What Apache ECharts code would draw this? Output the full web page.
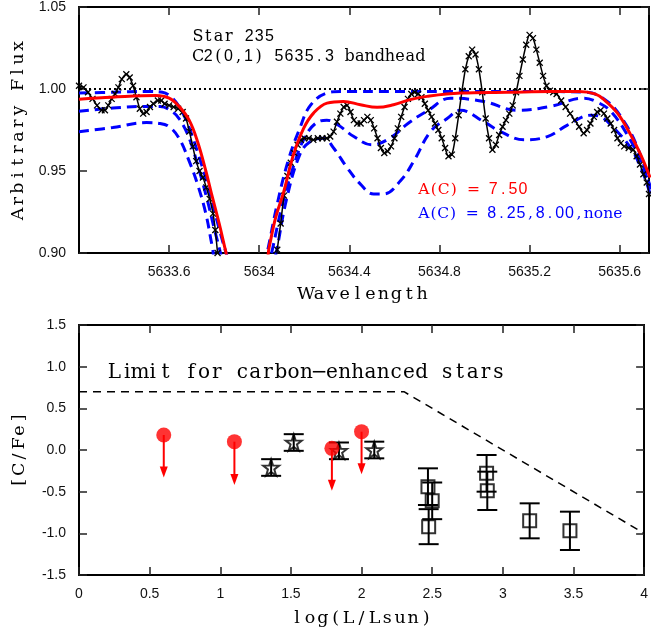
<!DOCTYPE html>
<html><head><meta charset="utf-8">
<script src="https://cdn.jsdelivr.net/npm/echarts@6/dist/echarts.min.js"></script>
<style>html,body{margin:0;padding:0;background:#fff}#c{width:651px;height:642px}</style>
</head><body><div id="c"></div>
<script>
// ---------- Top panel: spectrum ----------
const obsWave = [5633.200,5633.220,5633.240,5633.260,5633.280,5633.300,5633.315,5633.330,5633.345,5633.360,5633.375,5633.390,5633.410,5633.425,5633.440,5633.455,5633.470,5633.485,5633.500,5633.515,5633.530,5633.550,5633.565,5633.580,5633.600,5633.620,5633.640,5633.660,5633.675,5633.690,5633.705,5633.720,5633.735,5633.750,5633.765,5633.780,5633.795,5633.805,5633.815,5633.830,
5634.065,5634.080,5634.095,5634.110,5634.125,5634.140,5634.155,5634.170,5634.185,5634.200,5634.220,5634.240,5634.260,5634.280,5634.300,5634.315,5634.330,5634.345,5634.360,5634.375,5634.390,5634.405,5634.420,5634.435,5634.450,5634.465,5634.480,5634.495,5634.510,5634.525,5634.540,5634.555,5634.570,5634.585,5634.600,5634.615,5634.630,5634.645,5634.660,5634.675,5634.690,5634.705,5634.720,5634.735,5634.750,5634.765,5634.780,5634.795,5634.810,5634.825,5634.840,5634.855,5634.870,5634.885,5634.900,5634.915,5634.930,5634.945,5634.960,5634.975,5634.990,5635.005,5635.020,5635.035,5635.050,5635.065,5635.080,5635.095,5635.110,5635.125,5635.140,5635.155,5635.170,5635.185,5635.200,5635.215,5635.230,5635.245,5635.260,5635.275,5635.290,5635.305,5635.320,5635.340,5635.360,5635.380,5635.400,5635.420,5635.440,5635.455,5635.470,5635.485,5635.500,5635.515,5635.530,5635.545,5635.560,5635.575,5635.590,5635.605,5635.620,5635.640,5635.660,5635.675,5635.690,5635.705,5635.720,5635.730];
const obsFlux = [1.002,1.001,0.998,0.994,0.990,0.987,0.987,0.990,0.994,0.997,1.001,1.006,1.009,1.007,1.002,0.995,0.988,0.985,0.986,0.989,0.991,0.993,0.993,0.991,0.990,0.989,0.988,0.986,0.982,0.974,0.965,0.956,0.950,0.946,0.940,0.933,0.924,0.914,0.900,0.880,
0.885,0.902,0.918,0.935,0.947,0.955,0.961,0.966,0.969,0.970,0.970,0.969,0.970,0.970,0.970,0.971,0.974,0.980,0.985,0.989,0.990,0.986,0.981,0.979,0.979,0.981,0.983,0.981,0.976,0.970,0.964,0.961,0.962,0.965,0.970,0.976,0.983,0.989,0.994,0.997,0.998,0.997,0.995,0.991,0.987,0.983,0.979,0.975,0.970,0.964,0.959,0.960,0.970,0.984,0.999,1.012,1.020,1.024,1.021,1.012,0.998,0.982,0.970,0.963,0.966,0.972,0.977,0.981,0.985,0.990,0.998,1.008,1.018,1.027,1.033,1.031,1.024,1.016,1.008,1.002,0.999,0.998,0.997,0.993,0.989,0.985,0.981,0.977,0.973,0.975,0.979,0.983,0.986,0.987,0.985,0.982,0.979,0.975,0.970,0.967,0.965,0.964,0.963,0.959,0.954,0.948,0.943,0.936];

const fit750Wave = [5633.200,5633.348,5633.541,5633.600,5633.644,5633.689,5633.726,5633.763,5633.792,5633.822,5633.852,5633.880,5634.015,5634.044,5634.073,5634.108,5634.152,5634.197,5634.241,5634.301,5634.374,5634.449,5634.523,5634.596,5634.670,5634.745,5634.893,5635.100,5635.300,5635.420,5635.490,5635.530,5635.590,5635.649,5635.693,5635.735];
const fit750Flux = [0.9938,0.995,0.996,0.9944,0.9894,0.981,0.968,0.950,0.934,0.918,0.9005,0.885,0.885,0.9035,0.9217,0.937,0.960,0.976,0.9853,0.9914,0.9924,0.9904,0.9888,0.9904,0.9935,0.9955,0.9975,0.998,0.9985,0.9985,0.997,0.9935,0.9853,0.972,0.960,0.946];

const fitNoneWave = [5633.200,5633.350,5633.500,5633.570,5633.610,5633.650,5633.690,5633.730,5633.770,5633.810,5633.853,5633.890,5634.000,5634.035,5634.080,5634.130,5634.180,5634.227,5634.300,5634.360,5634.600,5634.900,5635.200,5635.450,5635.545,5635.620,5635.680,5635.723,5635.740];
const fitNoneFlux = [0.9975,0.998,0.9985,0.998,0.995,0.988,0.976,0.960,0.942,0.921,0.900,0.885,0.880,0.900,0.930,0.957,0.976,0.990,0.9975,0.9985,0.9985,0.9985,0.9985,0.998,0.9924,0.980,0.964,0.946,0.938];

const fit800Wave = [5633.200,5633.350,5633.500,5633.560,5633.600,5633.644,5633.689,5633.730,5633.770,5633.800,5633.828,5633.860,5634.020,5634.055,5634.100,5634.150,5634.200,5634.250,5634.300,5634.350,5634.420,5634.500,5634.580,5634.660,5634.750,5634.849,5634.997,5635.145,5635.293,5635.440,5635.500,5635.560,5635.634,5635.693,5635.735];
const fit800Flux = [0.9864,0.9884,0.9894,0.9894,0.9875,0.982,0.970,0.952,0.932,0.915,0.900,0.880,0.880,0.900,0.928,0.952,0.970,0.979,0.981,0.978,0.971,0.966,0.970,0.979,0.987,0.9944,0.9924,0.987,0.9894,0.9944,0.992,0.9864,0.972,0.956,0.940];

const fit825Wave = [5633.200,5633.350,5633.500,5633.560,5633.600,5633.644,5633.689,5633.726,5633.763,5633.792,5633.820,5634.040,5634.075,5634.120,5634.180,5634.227,5634.286,5634.330,5634.390,5634.449,5634.508,5634.552,5634.627,5634.686,5634.760,5634.834,5634.893,5634.997,5635.071,5635.175,5635.279,5635.368,5635.471,5635.516,5635.575,5635.649,5635.700,5635.735];
const fit825Flux = [0.974,0.9765,0.9795,0.979,0.977,0.970,0.956,0.942,0.924,0.9035,0.885,0.880,0.900,0.932,0.960,0.968,0.970,0.964,0.952,0.942,0.936,0.936,0.944,0.956,0.974,0.982,0.987,0.980,0.974,0.969,0.971,0.978,0.984,0.983,0.976,0.964,0.950,0.936];

const continuumWave = [5633.2, 5635.73];
const continuumFlux = [1.0, 1.0];

// ---------- Bottom panel: [C/Fe] vs log L ----------
const limitLogL = [0.60, 1.10, 1.79, 2.00];
const limitCFe  = [0.18, 0.10, 0.02, 0.22];
const limitTip  = [-0.33, -0.42, -0.49, -0.29];

const starLogL = [1.36, 1.52, 1.84, 2.09];
const starCFe  = [-0.21, 0.09, -0.01, 0.00];
const starErr  = [0.10, 0.10, 0.10, 0.10];

const sqLogL = [2.47, 2.50, 2.475, 2.885, 2.89, 3.19, 3.475];
const sqCFe  = [-0.44, -0.61, -0.92, -0.28, -0.49, -0.85, -0.97];
const sqErr  = [0.22, 0.22, 0.21, 0.22, 0.23, 0.21, 0.23];

const cemLineLogL = [0, 2.3, 4];
const cemLineCFe  = [0.7, 0.7, -1.0];

// ---------- helpers ----------
const zip = (a, b) => a.map((v, i) => [v, b[i]]);
const zip3 = (a, b, c) => a.map((v, i) => [v, b[i], c[i]]);
const SERIF = "'DejaVu Serif', 'Liberation Serif', serif";
const SANS = "'Liberation Sans', Arial, sans-serif";

// monospaced rendering of a serif font: every character sits in a fixed-width cell
function cells(s) {
  return s.split('').map(ch => (/[0-9.]/.test(ch) ? '{d|' : '{m|') + (ch === ' ' ? '\u00a0' : ch) + '}').join('');
}
function cellRich(size, cellW, color) {
  return {
    m: { fontFamily: SERIF, fontSize: size, width: cellW, align: 'center', color: color, fill: color },
    d: { fontFamily: SANS, fontSize: Math.round(size * 1.02), width: cellW, align: 'center', color: color, fill: color }
  };
}

const chart = echarts.init(document.getElementById('c'), null, { renderer: 'canvas' });

const labelStyle = { fontFamily: SANS, fontSize: 14, color: '#111' };
const lineAx = { show: true, onZero: false, lineStyle: { color: '#000', width: 2 } };
const tickAx = { show: true, inside: true, length: 8, lineStyle: { color: '#222', width: 1.5 } };
const nameStyle = { rich: cellRich(17.5, 12.9, '#000') };

const xTop = { min: 5633.2, max: 5635.73, interval: 0.4 };
const yTop = { min: 0.9, max: 1.05, interval: 0.05 };
const xBot = { min: 0, max: 4, interval: 0.5 };
const yBot = { min: -1.5, max: 1.5, interval: 0.5 };

const starPath = 'path://M0,-10L2.35,-3.24L9.51,-3.09L3.8,1.24L5.88,8.09L0,4L-5.88,8.09L-3.8,1.24L-9.51,-3.09L-2.35,-3.24Z';
const crossPath = 'path://M0,0L10,10M10,0L0,10';

function errorBarRender(params, api) {
  const x = api.value(0), y = api.value(1), e = api.value(2);
  const p0 = api.coord([x, y + e]), p1 = api.coord([x, y - e]);
  const w = 10, st = { stroke: '#000', lineWidth: 2 };
  return { type: 'group', children: [
    { type: 'line', shape: { x1: p0[0], y1: p0[1], x2: p1[0], y2: p1[1] }, style: st },
    { type: 'line', shape: { x1: p0[0] - w, y1: p0[1], x2: p0[0] + w, y2: p0[1] }, style: st },
    { type: 'line', shape: { x1: p1[0] - w, y1: p1[1], x2: p1[0] + w, y2: p1[1] }, style: st }
  ]};
}
function arrowRender(params, api) {
  const x = api.value(0), y = api.value(1), t = api.value(2);
  const p0 = api.coord([x, y]), p1 = api.coord([x, t]);
  return { type: 'group', children: [
    { type: 'line', shape: { x1: p0[0], y1: p0[1], x2: p1[0], y2: p1[1] - 8 }, style: { stroke: '#ff0000', lineWidth: 2 } },
    { type: 'polygon', shape: { points: [[p1[0] - 4, p1[1] - 11], [p1[0] + 4, p1[1] - 11], [p1[0], p1[1]]] }, style: { fill: '#ff0000' } }
  ]};
}

const blueDash = { color: '#0000ff', width: 3, type: [10, 6] };

const option = {
  animation: false,
  backgroundColor: '#fff',
  grid: [
    { left: 79, top: 5, width: 570, height: 248 },
    { left: 79, top: 325, width: 570, height: 250 }
  ],
  xAxis: [
    Object.assign({ type: 'value', gridIndex: 0, position: 'bottom', axisLine: lineAx, axisTick: tickAx, splitLine: { show: false },
      axisLabel: Object.assign({ margin: 12, showMinLabel: false, showMaxLabel: false, formatter: v => String(Math.round(v * 10) / 10) }, labelStyle),
      name: cells('Wavelength'), nameLocation: 'middle', nameGap: 32, nameTextStyle: nameStyle }, xTop),
    Object.assign({ type: 'value', gridIndex: 0, position: 'top', axisLine: lineAx, axisTick: tickAx, splitLine: { show: false }, axisLabel: { show: false } }, xTop),
    Object.assign({ type: 'value', gridIndex: 1, position: 'bottom', axisLine: lineAx, axisTick: tickAx, splitLine: { show: false },
      axisLabel: Object.assign({ margin: 12 }, labelStyle),
      name: cells('log(L/Lsun)'), nameLocation: 'middle', nameGap: 34, nameTextStyle: nameStyle }, xBot),
    Object.assign({ type: 'value', gridIndex: 1, position: 'top', axisLine: lineAx, axisTick: tickAx, splitLine: { show: false }, axisLabel: { show: false } }, xBot)
  ],
  yAxis: [
    Object.assign({ type: 'value', gridIndex: 0, position: 'left', axisLine: lineAx, axisTick: tickAx, splitLine: { show: false },
      axisLabel: Object.assign({ margin: 13, formatter: v => v.toFixed(2) }, labelStyle),
      name: cells('Arbitrary Flux'), nameLocation: 'middle', nameGap: 51, nameTextStyle: nameStyle }, yTop),
    Object.assign({ type: 'value', gridIndex: 0, position: 'right', axisLine: lineAx, axisTick: tickAx, splitLine: { show: false }, axisLabel: { show: false } }, yTop),
    Object.assign({ type: 'value', gridIndex: 1, position: 'left', axisLine: lineAx, axisTick: tickAx, splitLine: { show: false },
      axisLabel: Object.assign({ margin: 13, formatter: v => v.toFixed(1) }, labelStyle),
      name: cells('[C/Fe]'), nameLocation: 'middle', nameGap: 51, nameTextStyle: nameStyle }, yBot),
    Object.assign({ type: 'value', gridIndex: 1, position: 'right', axisLine: lineAx, axisTick: tickAx, splitLine: { show: false }, axisLabel: { show: false } }, yBot)
  ],
  series: [
    { type: 'line', xAxisIndex: 0, yAxisIndex: 0, data: zip(continuumWave, continuumFlux), symbol: 'none',
      lineStyle: { color: '#000', width: 2, type: [2, 3] }, z: 1 },
    { type: 'line', xAxisIndex: 0, yAxisIndex: 0, data: zip(fitNoneWave, fitNoneFlux), symbol: 'none', smooth: 0.4, lineStyle: blueDash, z: 2 },
    { type: 'line', xAxisIndex: 0, yAxisIndex: 0, data: zip(fit800Wave, fit800Flux), symbol: 'none', smooth: 0.4, lineStyle: blueDash, z: 2 },
    { type: 'line', xAxisIndex: 0, yAxisIndex: 0, data: zip(fit825Wave, fit825Flux), symbol: 'none', smooth: 0.4, lineStyle: blueDash, z: 2 },
    { type: 'line', xAxisIndex: 0, yAxisIndex: 0, data: zip(obsWave, obsFlux), symbol: crossPath, symbolSize: 6, smooth: 0.3,
      lineStyle: { color: '#000', width: 1.5 }, itemStyle: { color: '#000', borderColor: '#000', borderWidth: 1.3 }, z: 3 },
    { type: 'line', xAxisIndex: 0, yAxisIndex: 0, data: zip(fit750Wave, fit750Flux), symbol: 'none', smooth: 0.4,
      lineStyle: { color: '#ff0000', width: 3 }, z: 4 },

    { type: 'line', xAxisIndex: 2, yAxisIndex: 2, data: zip(cemLineLogL, cemLineCFe), symbol: 'none',
      lineStyle: { color: '#000', width: 1.5, type: [8, 6] }, z: 1 },
    { type: 'custom', xAxisIndex: 2, yAxisIndex: 2, data: zip3(starLogL, starCFe, starErr), renderItem: errorBarRender, z: 2 },
    { type: 'custom', xAxisIndex: 2, yAxisIndex: 2, data: zip3(sqLogL, sqCFe, sqErr), renderItem: errorBarRender, z: 2 },
    { type: 'scatter', xAxisIndex: 2, yAxisIndex: 2, data: zip(starLogL, starCFe), symbol: starPath, symbolSize: 16,
      itemStyle: { color: 'rgba(255,255,255,0)', borderColor: '#000', borderWidth: 2 }, z: 3 },
    { type: 'scatter', xAxisIndex: 2, yAxisIndex: 2, data: zip(sqLogL, sqCFe), symbol: 'rect', symbolSize: 13,
      itemStyle: { color: 'rgba(255,255,255,0)', borderColor: '#000', borderWidth: 2 }, z: 3 },
    { type: 'custom', xAxisIndex: 2, yAxisIndex: 2, data: zip3(limitLogL, limitCFe, limitTip), renderItem: arrowRender, z: 4 },
    { type: 'scatter', xAxisIndex: 2, yAxisIndex: 2, data: zip(limitLogL, limitCFe), symbol: 'circle', symbolSize: 15,
      itemStyle: { color: '#ff0000' }, z: 5 }
  ],
  graphic: [
    { type: 'text', x: 193, y: 37, style: { text: cells('Star 235'), rich: cellRich(16, 10.2, '#000'), verticalAlign: 'middle' } },
    { type: 'text', x: 193, y: 57, style: { text: cells('C2(0,1) 5635.3 bandhead'), rich: cellRich(16, 10.1, '#000'), verticalAlign: 'middle' } },
    { type: 'text', x: 419, y: 190, style: { text: cells('A(C) = 7.50'), rich: cellRich(15.5, 9.9, '#ff0000'), verticalAlign: 'middle' } },
    { type: 'text', x: 419, y: 214, style: { text: cells('A(C) = 8.25,8.00,none'), rich: cellRich(15.5, 9.7, '#0000ff'), verticalAlign: 'middle' } },
    { type: 'text', x: 108, y: 373, style: { text: cells('Limit for carbon\u2212enhanced stars'), rich: cellRich(20, 12.8, '#000'), verticalAlign: 'middle' } }
  ]
};
chart.setOption(option);
</script>
</body></html>
